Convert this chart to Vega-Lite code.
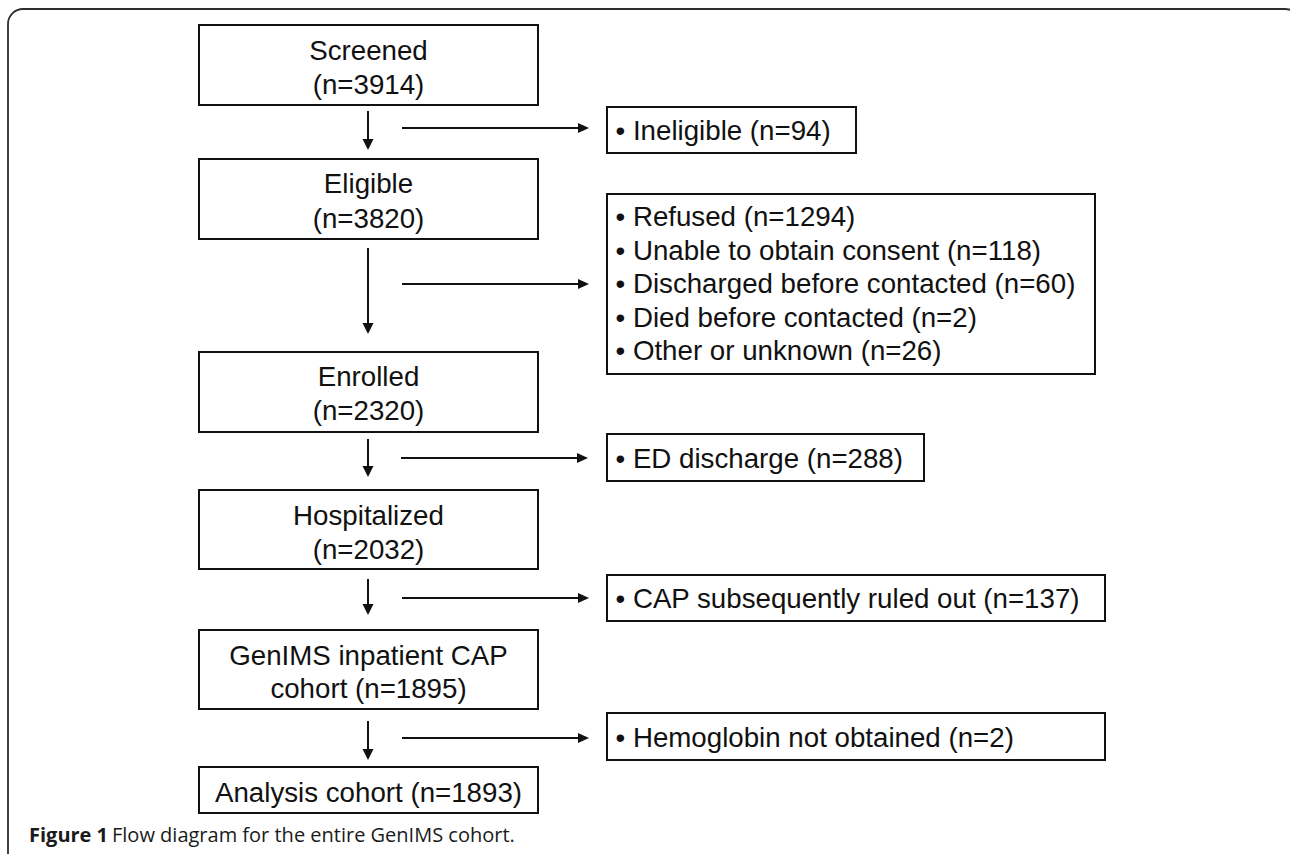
{
  "$schema": "https://vega.github.io/schema/vega-lite/v6.json",
  "width": 1290,
  "height": 854,
  "padding": 0,
  "autosize": {"type": "fit", "contains": "padding"},
  "background": "white",
  "config": {"view": {"stroke": null}},
  "datasets": {
    "frame": [{"x": 8, "x2": 1300, "y": 9, "y2": 900}],
    "boxes": [
      {"name": "Screened", "x": 199, "x2": 538, "y": 25, "y2": 105},
      {"name": "Eligible", "x": 199, "x2": 538, "y": 159, "y2": 239},
      {"name": "Enrolled", "x": 199, "x2": 538, "y": 352, "y2": 432},
      {"name": "Hospitalized", "x": 199, "x2": 538, "y": 490, "y2": 569},
      {"name": "GenIMS", "x": 199, "x2": 538, "y": 630, "y2": 709},
      {"name": "Analysis", "x": 199, "x2": 538, "y": 767, "y2": 813},
      {"name": "Ineligible", "x": 607, "x2": 856, "y": 107, "y2": 153},
      {"name": "Refused", "x": 607, "x2": 1095, "y": 194, "y2": 374},
      {"name": "ED", "x": 607, "x2": 924, "y": 434, "y2": 481},
      {"name": "CAP", "x": 607, "x2": 1105, "y": 575, "y2": 621},
      {"name": "Hemoglobin", "x": 607, "x2": 1105, "y": 713, "y2": 760}
    ],
    "lines": [
      {"x": 368, "x2": 368, "y": 111, "y2": 142},
      {"x": 368, "x2": 368, "y": 248, "y2": 326},
      {"x": 368, "x2": 368, "y": 439, "y2": 469},
      {"x": 368, "x2": 368, "y": 579, "y2": 607},
      {"x": 368, "x2": 368, "y": 721, "y2": 752},
      {"x": 402, "x2": 581, "y": 128, "y2": 128},
      {"x": 402, "x2": 581, "y": 284, "y2": 284},
      {"x": 401, "x2": 580, "y": 458, "y2": 458},
      {"x": 402, "x2": 581, "y": 598, "y2": 598},
      {"x": 402, "x2": 581, "y": 738, "y2": 738}
    ],
    "heads": [
      {"x": 368, "y": 150, "dir": "down"},
      {"x": 368, "y": 334, "dir": "down"},
      {"x": 368, "y": 477, "dir": "down"},
      {"x": 368, "y": 615, "dir": "down"},
      {"x": 368, "y": 760, "dir": "down"},
      {"x": 589, "y": 128, "dir": "right"},
      {"x": 589, "y": 284, "dir": "right"},
      {"x": 588, "y": 458, "dir": "right"},
      {"x": 589, "y": 598, "dir": "right"},
      {"x": 589, "y": 738, "dir": "right"}
    ],
    "mainText": [
      {"x": 368.5, "y": 60, "label": "Screened"},
      {"x": 368.5, "y": 94, "label": "(n=3914)"},
      {"x": 368.5, "y": 193, "label": "Eligible"},
      {"x": 368.5, "y": 228, "label": "(n=3820)"},
      {"x": 368.5, "y": 386, "label": "Enrolled"},
      {"x": 368.5, "y": 420, "label": "(n=2320)"},
      {"x": 368.5, "y": 525, "label": "Hospitalized"},
      {"x": 368.5, "y": 559, "label": "(n=2032)"},
      {"x": 368.5, "y": 665, "label": "GenIMS inpatient CAP"},
      {"x": 368.5, "y": 698, "label": "cohort (n=1895)"},
      {"x": 368.5, "y": 802, "label": "Analysis cohort (n=1893)"}
    ],
    "sideText": [
      {"x": 615.5, "y": 140, "label": "• Ineligible (n=94)"},
      {"x": 615.5, "y": 226, "label": "• Refused (n=1294)"},
      {"x": 615.5, "y": 259.5, "label": "• Unable to obtain consent (n=118)"},
      {"x": 615.5, "y": 293, "label": "• Discharged before contacted (n=60)"},
      {"x": 615.5, "y": 326.5, "label": "• Died before contacted (n=2)"},
      {"x": 615.5, "y": 360, "label": "• Other or unknown (n=26)"},
      {"x": 615.5, "y": 468, "label": "• ED discharge (n=288)"},
      {"x": 615.5, "y": 608, "label": "• CAP subsequently ruled out (n=137)"},
      {"x": 615.5, "y": 747, "label": "• Hemoglobin not obtained (n=2)"}
    ],
    "captionBold": [{"x": 29, "y": 842, "label": "Figure 1"}],
    "captionText": [{"x": 112, "y": 842, "label": "Flow diagram for the entire GenIMS cohort."}]
  },
  "layer": [
    {
      "data": {"name": "frame"},
      "mark": {"type": "rect", "fill": null, "stroke": "#2e2e2e", "strokeWidth": 1.8, "cornerRadius": 15, "clip": true},
      "encoding": {
        "x": {"field": "x", "type": "quantitative", "scale": {"domain": [0, 1290], "nice": false, "zero": false}, "axis": null},
        "x2": {"field": "x2"},
        "y": {"field": "y", "type": "quantitative", "scale": {"domain": [0, 854], "nice": false, "zero": false, "reverse": true}, "axis": null},
        "y2": {"field": "y2"}
      }
    },
    {
      "data": {"name": "boxes"},
      "mark": {"type": "rect", "fill": "white", "stroke": "#111111", "strokeWidth": 2},
      "encoding": {
        "x": {"field": "x", "type": "quantitative", "axis": null},
        "x2": {"field": "x2"},
        "y": {"field": "y", "type": "quantitative", "axis": null},
        "y2": {"field": "y2"}
      }
    },
    {
      "data": {"name": "lines"},
      "mark": {"type": "rule", "stroke": "#111111", "strokeWidth": 2},
      "encoding": {
        "x": {"field": "x", "type": "quantitative", "axis": null},
        "x2": {"field": "x2"},
        "y": {"field": "y", "type": "quantitative", "axis": null},
        "y2": {"field": "y2"}
      }
    },
    {
      "data": {"name": "heads"},
      "mark": {"type": "point", "filled": true, "fill": "#111111", "stroke": null, "opacity": 1, "size": 484},
      "encoding": {
        "x": {"field": "x", "type": "quantitative", "axis": null},
        "y": {"field": "y", "type": "quantitative", "axis": null},
        "shape": {"field": "dir", "type": "nominal", "legend": null,
          "scale": {"domain": ["down", "right"], "range": ["M0,0L-0.5,-1L0.5,-1Z", "M0,0L-1,-0.46L-1,0.46Z"]}}
      }
    },
    {
      "data": {"name": "mainText"},
      "mark": {"type": "text", "font": "Liberation Sans", "fontSize": 27.7, "align": "center", "baseline": "alphabetic", "color": "#111111"},
      "encoding": {
        "x": {"field": "x", "type": "quantitative", "axis": null},
        "y": {"field": "y", "type": "quantitative", "axis": null},
        "text": {"field": "label"}
      }
    },
    {
      "data": {"name": "sideText"},
      "mark": {"type": "text", "font": "Liberation Sans", "fontSize": 27.7, "align": "left", "baseline": "alphabetic", "color": "#111111"},
      "encoding": {
        "x": {"field": "x", "type": "quantitative", "axis": null},
        "y": {"field": "y", "type": "quantitative", "axis": null},
        "text": {"field": "label"}
      }
    },
    {
      "data": {"name": "captionBold"},
      "mark": {"type": "text", "font": "Open Sans", "fontSize": 20, "fontWeight": "bold", "align": "left", "baseline": "alphabetic", "color": "#1a1a1a"},
      "encoding": {
        "x": {"field": "x", "type": "quantitative", "axis": null},
        "y": {"field": "y", "type": "quantitative", "axis": null},
        "text": {"field": "label"}
      }
    },
    {
      "data": {"name": "captionText"},
      "mark": {"type": "text", "font": "Open Sans", "fontSize": 20, "fontWeight": "normal", "align": "left", "baseline": "alphabetic", "color": "#1a1a1a"},
      "encoding": {
        "x": {"field": "x", "type": "quantitative", "axis": null},
        "y": {"field": "y", "type": "quantitative", "axis": null},
        "text": {"field": "label"}
      }
    }
  ]
}
